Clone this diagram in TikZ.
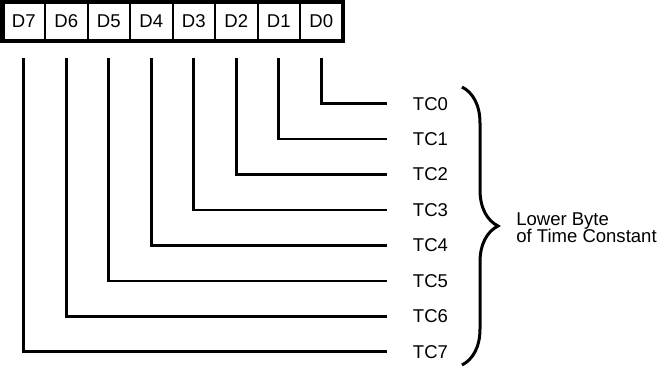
\documentclass[tikz,border=0pt]{standalone}
\usepackage{fontspec}
\setmainfont{Liberation Sans}
\usetikzlibrary{positioning,fit,decorations.pathreplacing}

\begin{document}
\begin{tikzpicture}[
  x=0.75pt, y=-0.75pt,
  font=\fontsize{13.9}{13.3}\selectfont,
  node distance=0pt,
  cell/.style={draw,line width=1.5pt,minimum width=31.875pt,minimum height=29.25pt,inner sep=0pt,outer sep=0pt},
  tclabel/.style={anchor=west,inner sep=0pt},
  wire/.style={line width=2pt,shorten <=12.75pt,shorten >=19pt},
]
\useasboundingbox (0,0) rectangle (661,367);

% ============ register: D7 ... D0 ============
\node[cell] (d7) at (23.75,21.5) {D7};
\node[cell,right=of d7] (d6) {D6};
\node[cell,right=of d6] (d5) {D5};
\node[cell,right=of d5] (d4) {D4};
\node[cell,right=of d4] (d3) {D3};
\node[cell,right=of d3] (d2) {D2};
\node[cell,right=of d2] (d1) {D1};
\node[cell,right=of d1] (d0) {D0};
\node[draw,line width=3pt,fit=(d7)(d0),inner sep=0pt] (reg) {};

% ============ time constant bits ============
\node[tclabel] (tc0) at (412.7,103.7) {TC0};
\node[tclabel] (tc1) at (412.7,139.1) {TC1};
\node[tclabel] (tc2) at (412.7,174.6) {TC2};
\node[tclabel] (tc3) at (412.7,210.0) {TC3};
\node[tclabel] (tc4) at (412.7,245.4) {TC4};
\node[tclabel] (tc5) at (412.7,280.9) {TC5};
\node[tclabel] (tc6) at (412.7,316.3) {TC6};
\node[tclabel] (tc7) at (412.7,351.7) {TC7};

\draw[wire] (d0.south) |- (tc0.west);
\draw[wire] (d1.south) |- (tc1.west);
\draw[wire] (d2.south) |- (tc2.west);
\draw[wire] (d3.south) |- (tc3.west);
\draw[wire] (d4.south) |- (tc4.west);
\draw[wire] (d5.south) |- (tc5.west);
\draw[wire] (d6.south) |- (tc6.west);
\draw[wire] (d7.south) |- (tc7.west);

% ============ brace + label ============
\coordinate (bracetop) at (462,87);
\coordinate (bracebot) at (462,365);
\draw[line width=2.25pt,decorate,decoration={brace,amplitude=27pt}] (bracetop) -- (bracebot);
\node[anchor=west,align=left,inner sep=0pt] (lowbyte) at (516,227.7) {Lower Byte\\of Time Constant};

\end{tikzpicture}
\end{document}
